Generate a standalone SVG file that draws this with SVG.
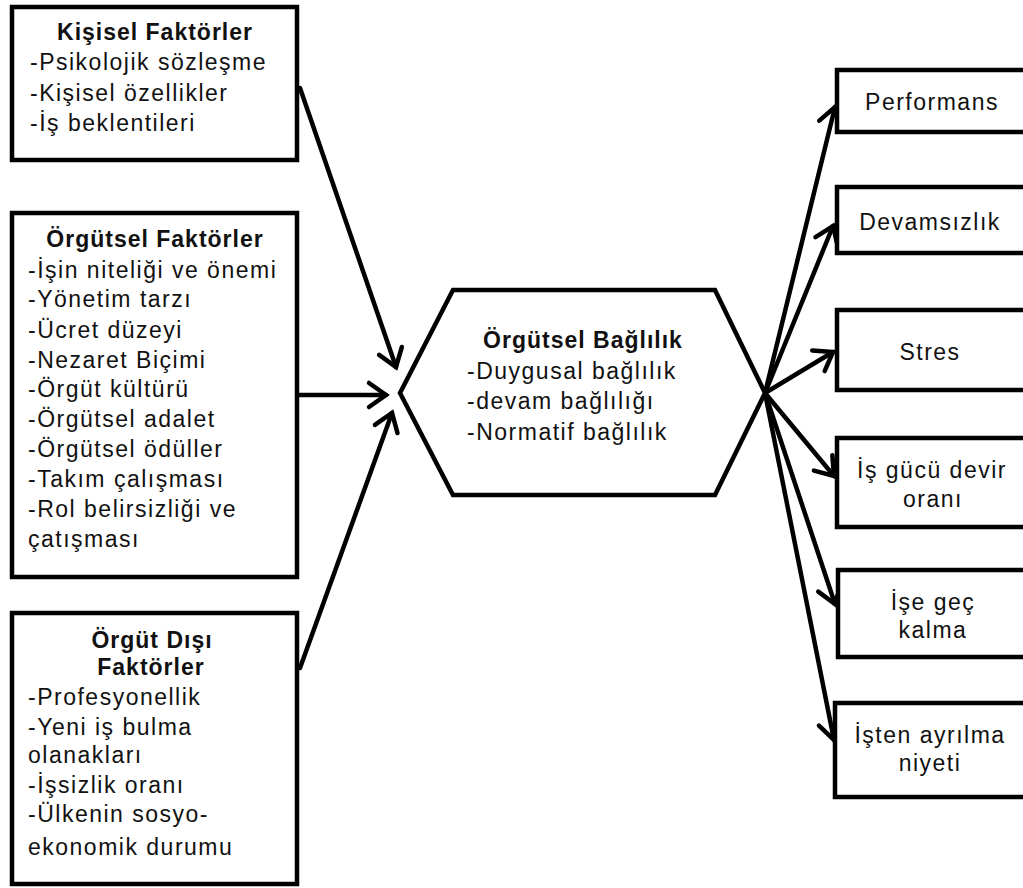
<svg xmlns="http://www.w3.org/2000/svg" width="1023" height="888" viewBox="0 0 1023 888">
  <style>
    .box { fill: #fff; stroke: #000; stroke-width: 4.5; }
    .t { font-family: "Liberation Sans", Arial, sans-serif; font-size: 23px; fill: #111; letter-spacing: 1.5px; }
    .b { font-weight: bold; letter-spacing: 1px; }
    .c { text-anchor: middle; }
    .link { fill: none; stroke: #000; stroke-width: 4.5; stroke-linecap: round; }
  </style>
  <defs>
    <marker id="arrow" markerUnits="userSpaceOnUse" markerWidth="44" markerHeight="44" refX="22" refY="22" orient="auto" viewBox="0 0 44 44">
      <path d="M5,10 L22,22 L5,34" fill="none" stroke="#000" stroke-width="4.5" stroke-linecap="round" stroke-linejoin="miter"/>
    </marker>
  </defs>
  <rect width="1023" height="888" fill="#fff"/>

  <!-- connectors -->
  <g id="connectors">
    <line class="link" x1="300" y1="88" x2="396" y2="367" marker-end="url(#arrow)"/>
    <line class="link" x1="298" y1="395" x2="386" y2="395" marker-end="url(#arrow)"/>
    <line class="link" x1="300" y1="668" x2="392" y2="413" marker-end="url(#arrow)"/>
    <line class="link" x1="765" y1="393" x2="835" y2="107" marker-end="url(#arrow)"/>
    <line class="link" x1="765" y1="393" x2="833" y2="226" marker-end="url(#arrow)"/>
    <line class="link" x1="765" y1="393" x2="833" y2="352" marker-end="url(#arrow)"/>
    <line class="link" x1="765" y1="393" x2="834" y2="476" marker-end="url(#arrow)"/>
    <line class="link" x1="765" y1="393" x2="835" y2="604" marker-end="url(#arrow)"/>
    <line class="link" x1="765" y1="393" x2="834" y2="740" marker-end="url(#arrow)"/>
  </g>

  <g id="kisisel">
    <rect class="box" x="12" y="7" width="285" height="153"/>
    <text class="t b c" x="155" y="40">Kişisel Faktörler</text>
    <text class="t" x="30" y="70">-Psikolojik sözleşme</text>
    <text class="t" x="30" y="101">-Kişisel özellikler</text>
    <text class="t" x="30" y="131">-İş beklentileri</text>
  </g>

  <g id="orgutsel">
    <rect class="box" x="12" y="213" width="285" height="364"/>
    <text class="t b c" x="155" y="247">Örgütsel Faktörler</text>
    <text class="t" x="28" y="278">-İşin niteliği ve önemi</text>
    <text class="t" x="28" y="307">-Yönetim tarzı</text>
    <text class="t" x="28" y="338">-Ücret düzeyi</text>
    <text class="t" x="28" y="368">-Nezaret  Biçimi</text>
    <text class="t" x="28" y="397">-Örgüt kültürü</text>
    <text class="t" x="28" y="427">-Örgütsel adalet</text>
    <text class="t" x="28" y="457">-Örgütsel ödüller</text>
    <text class="t" x="28" y="487">-Takım çalışması</text>
    <text class="t" x="28" y="517">-Rol belirsizliği ve</text>
    <text class="t" x="28" y="547">çatışması</text>
  </g>

  <g id="orgut-disi">
    <rect class="box" x="12" y="613" width="285" height="271"/>
    <text class="t b c" x="152" y="648">Örgüt Dışı</text>
    <text class="t b c" x="151" y="675">Faktörler</text>
    <text class="t" x="28" y="705">-Profesyonellik</text>
    <text class="t" x="28" y="735">-Yeni iş bulma</text>
    <text class="t" x="28" y="763">olanakları</text>
    <text class="t" x="28" y="793">-İşsizlik oranı</text>
    <text class="t" x="28" y="822">-Ülkenin sosyo-</text>
    <text class="t" x="28" y="855">ekonomik durumu</text>
  </g>

  <g id="baglilik">
    <polygon class="box" points="453,290 715,290 765,393 715,495 453,495 400,393"/>
    <text class="t b c" x="583" y="348">Örgütsel Bağlılık</text>
    <text class="t" x="467" y="379">-Duygusal bağlılık</text>
    <text class="t" x="467" y="409">-devam bağlılığı</text>
    <text class="t" x="467" y="440">-Normatif bağlılık</text>
  </g>

  <g id="performans">
    <rect class="box" x="837" y="70" width="200" height="62"/>
    <text class="t c" x="932" y="110">Performans</text>
  </g>
  <g id="devamsizlik">
    <rect class="box" x="837" y="187" width="200" height="66"/>
    <text class="t c" x="930" y="230">Devamsızlık</text>
  </g>
  <g id="stres">
    <rect class="box" x="837" y="310" width="200" height="80"/>
    <text class="t c" x="930" y="360">Stres</text>
  </g>
  <g id="isgucu">
    <rect class="box" x="837" y="438" width="200" height="89"/>
    <text class="t c" x="932" y="478">İş gücü devir</text>
    <text class="t c" x="933" y="507">oranı</text>
  </g>
  <g id="isegec">
    <rect class="box" x="838" y="570" width="200" height="87"/>
    <text class="t c" x="933" y="610">İşe geç</text>
    <text class="t c" x="933" y="638">kalma</text>
  </g>
  <g id="istenayrilma">
    <rect class="box" x="835" y="703" width="200" height="94"/>
    <text class="t c" x="930" y="743">İşten ayrılma</text>
    <text class="t c" x="930" y="771">niyeti</text>
  </g>
</svg>
